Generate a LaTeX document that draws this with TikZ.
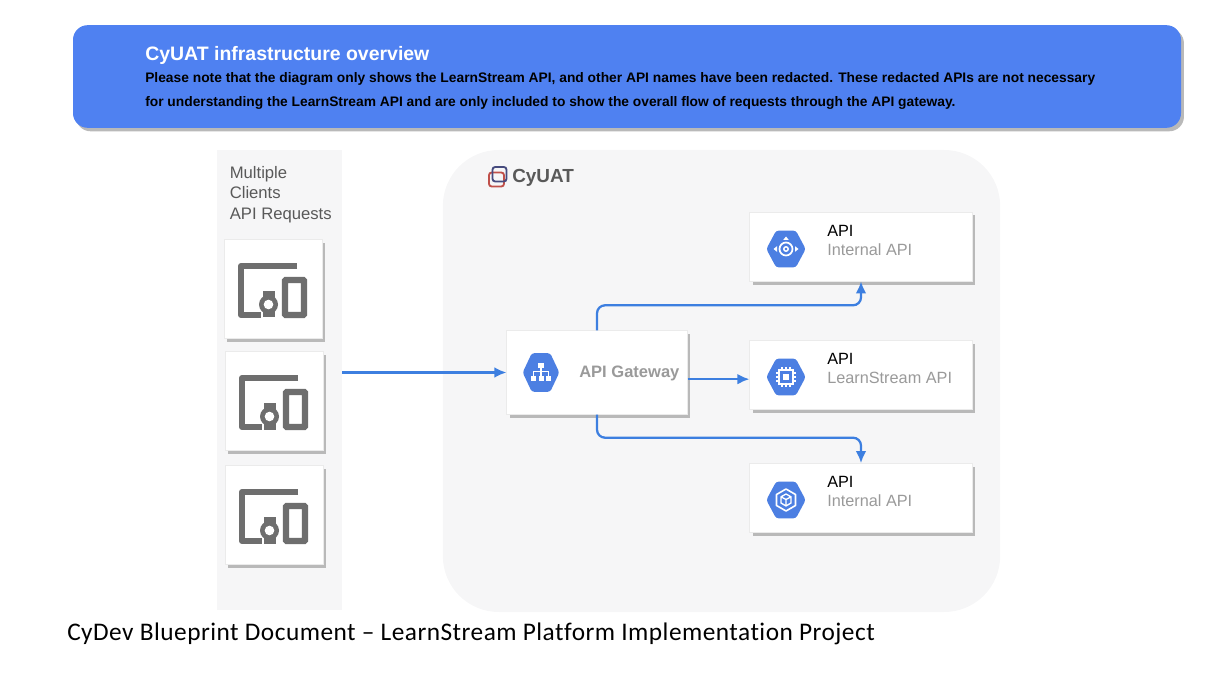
\documentclass[tikz,border=0pt]{standalone}
\usepackage{fontspec}
\setmainfont{Liberation Sans}
\newfontfamily\captionfont[LetterSpace=1.9,Ligatures=NoCommon]{Carlito}
\usetikzlibrary{
  shapes.geometric,
  shadows,
  positioning,
  arrows.meta,
}
\definecolor{bannerblue}{HTML}{4F81F1}
\definecolor{hexblue}{HTML}{4C7FE2}
\definecolor{flowblue}{HTML}{3D7FE0}
\definecolor{panelgray}{HTML}{F6F6F7}
\definecolor{shadowgray}{HTML}{B9B9B9}
\definecolor{icongray}{HTML}{6E6E6E}
\definecolor{labelgray}{HTML}{9A9A9A}
\definecolor{logored}{HTML}{C0504A}
\definecolor{logonavy}{HTML}{464B7E}
\tikzset{
  x=0.75pt,
  y=-0.75pt,
  banner/.style={
    rectangle,
    rounded corners=11pt,
    minimum width=831pt,
    minimum height=77pt,
    fill=bannerblue,
    drop shadow={shadow xshift=2.2pt, shadow yshift=-2.6pt, fill=shadowgray, opacity=1},
  },
  panel/.style={
    rectangle,
    fill=panelgray,
  },
  card/.style={
    rectangle,
    fill=white,
    draw=black!8,
    line width=0.3pt,
    drop shadow={shadow xshift=2.2pt, shadow yshift=-2.6pt, fill=shadowgray, opacity=1},
  },
  clientcard/.style={
    card,
    minimum width=73.5pt,
    minimum height=74pt,
  },
  apicard/.style={
    card,
    minimum width=167pt,
    minimum height=52pt,
  },
  hexicon/.style={
    regular polygon,
    regular polygon sides=6,
    minimum size=29.5pt,
    inner sep=0pt,
    fill=hexblue,
    rounded corners=2pt,
    yscale=1.08,
  },
  tag/.style={
    anchor=west,
    inner sep=0pt,
    font=\fontsize{12.2}{14}\selectfont,
  },
  note/.style={
    anchor=west,
    inner sep=0pt,
    font=\fontsize{10.35}{12}\selectfont\bfseries,
  },
  arrow/.style={
    flowblue,
    line width=1.7pt,
    rounded corners=6pt,
    -{Latex[length=9pt,width=8pt]},
  },
  devices/.pic={
    \draw[icongray, line width=4.6pt, line join=round]
      (24,-23) -- (-32,-23) -- (-32,26) -- (-12,26);
    \draw[icongray, line width=4.6pt, rounded corners=0.5pt] (12,-9) rectangle (31,26);
    \fill[icongray] (-10.5,2) rectangle (1.5,28.5);
    \fill[icongray] (-4.5,15.5) circle (9.5);
    \fill[white] (-4.5,15.5) circle (4.8);
  },
  targetglyph/.pic={
    \draw[white, line width=1.3pt] (0,0) circle (6.5);
    \draw[white, line width=1.1pt] (0,0) circle (2.2);
    \fill[white] (-12.5,0) -- (-9,-2.8) -- (-9,2.8) -- cycle;
    \fill[white] (12.5,0) -- (9,-2.8) -- (9,2.8) -- cycle;
    \fill[white] (0,-12.5) -- (-2.8,-9) -- (2.8,-9) -- cycle;
  },
  treeglyph/.pic={
    \fill[white] (-3,-9) rectangle (3,-4);
    \fill[white] (-10,3) rectangle (-5,8);
    \fill[white] (-2.5,3) rectangle (2.5,8);
    \fill[white] (5,3) rectangle (10,8);
    \draw[white, line width=0.8pt] (0,-4) -- (0,3) (-7.5,3) -- (-7.5,-1) -- (7.5,-1) -- (7.5,3);
  },
  chipglyph/.pic={
    \draw[white, line width=1.4pt] (-7,-7) rectangle (7,7);
    \fill[white] (-3,-3) rectangle (3,3);
    \foreach \offs in {-4,0,4} {
      \draw[white, line width=0.8pt] (\offs,-10) -- (\offs,-7) (\offs,7) -- (\offs,10);
      \draw[white, line width=0.8pt] (-10,\offs) -- (-7,\offs) (7,\offs) -- (10,\offs);
    }
  },
  cubeglyph/.pic={
    \draw[white, line width=1.2pt, line join=round]
      (0,-11) -- (9.5,-5.5) -- (9.5,5.5) -- (0,11) -- (-9.5,5.5) -- (-9.5,-5.5) -- cycle;
    \draw[white, line width=1pt, line join=round]
      (0,-6) -- (5,-3.2) -- (5,3) -- (0,6) -- (-5,3) -- (-5,-3.2) -- cycle
      (-5,-3.2) -- (0,-0.5) -- (5,-3.2) (0,-0.5) -- (0,6);
  },
}
\begin{document}
\begin{tikzpicture}
  \useasboundingbox (0,0) rectangle (1226,680);

  % Header
  \node (banner) [banner] at (627,76.5) {};
  \node (bannertitle) [anchor=west, inner sep=0pt, text=white, font=\fontsize{14.6}{17}\selectfont\bfseries] at (145,55) {CyUAT infrastructure overview};
  \node (noteone) [note] at (145,79) {Please note that the diagram only shows the LearnStream API, and other API names have been redacted. These redacted APIs are not necessary};
  \node (notetwo) [note] at (145,103) {for understanding the LearnStream API and are only included to show the overall flow of requests through the API gateway.};

  % Panels
  \node (clients) [panel, minimum width=94pt, minimum height=345pt] at (279.5,380) {};
  \node (cyuat) [panel, rounded corners=42pt, minimum width=418pt, minimum height=346.5pt] at (721.5,381) {};

  % Clients
  \node (clientstext) [tag, text=black!65, align=left, font=\fontsize{12.5}{15.4}\selectfont] at (229.5,194.5) {Multiple\\Clients\\API Requests};
  \node (clienta) [clientcard] at (273,289) {};
  \node (clientb) [clientcard] at (274,401) {};
  \node (clientc) [clientcard] at (274,515) {};
  \pic at (clienta.center) {devices};
  \pic at (clientb.center) {devices};
  \pic at (clientc.center) {devices};

  % Logo
  \draw[logored, line width=1.4pt, rounded corners=2pt] (489,172.5) rectangle (504,186.5);
  \draw[logonavy, line width=1.4pt, rounded corners=2pt] (492.5,167) rectangle (506.5,181.5);
  \node (logotext) [anchor=west, inner sep=0pt, text=black!65, font=\fontsize{14.2}{17}\selectfont\bfseries] at (512,178) {CyUAT};

  % Services
  \node (gateway) [card, minimum width=135.5pt, minimum height=63pt] at (597,372.5) {};
  \node (apitop) [apicard] at (861,246.5) {};
  \node (apimid) [apicard] at (861,375) {};
  \node (apilow) [apicard] at (861,498) {};

  \node (gatewayhex) [hexicon, minimum size=27.5pt, yscale=1.13] at (541,372.5) {};
  \node (tophex) [hexicon] at (786,249) {};
  \node (midhex) [hexicon] at (786,377) {};
  \node (lowhex) [hexicon] at (786,500) {};
  \pic at (gatewayhex.center) {treeglyph};
  \pic at (tophex.center) {targetglyph};
  \pic at (midhex.center) {chipglyph};
  \pic at (lowhex.center) {cubeglyph};

  \node (gatewaytext) [tag, text=labelgray, font=\fontsize{12.4}{14}\selectfont\bfseries] at (579,373) {API Gateway};
  \node (toptitle) [tag] at (827,231) {API};
  \node (topsub) [tag, text=labelgray] at (827,250) {Internal API};
  \node (midtitle) [tag] at (827,359) {API};
  \node (midsub) [tag, text=labelgray] at (827,378) {LearnStream API};
  \node (lowtitle) [tag] at (827,482) {API};
  \node (lowsub) [tag, text=labelgray] at (827,501) {Internal API};

  % Arrows
  \draw [arrow] (clients.east |- gateway.west) -- (gateway.west);
  \draw [arrow] ([yshift=-5pt]gateway.east) -- ([yshift=-5pt]gateway.east -| apimid.west);
  \draw [arrow] (gateway.north) -- ++(0,-25) -| (apitop.south);
  \draw [arrow] (gateway.south) -- ++(0,23) -| (apilow.north);

  % Caption
  \node (caption) [anchor=west, inner sep=0pt, font=\captionfont\fontsize{19}{21}\selectfont] at (67,633.5) {CyDev Blueprint Document – LearnStream Platform Implementation Project};
\end{tikzpicture}
\end{document}
